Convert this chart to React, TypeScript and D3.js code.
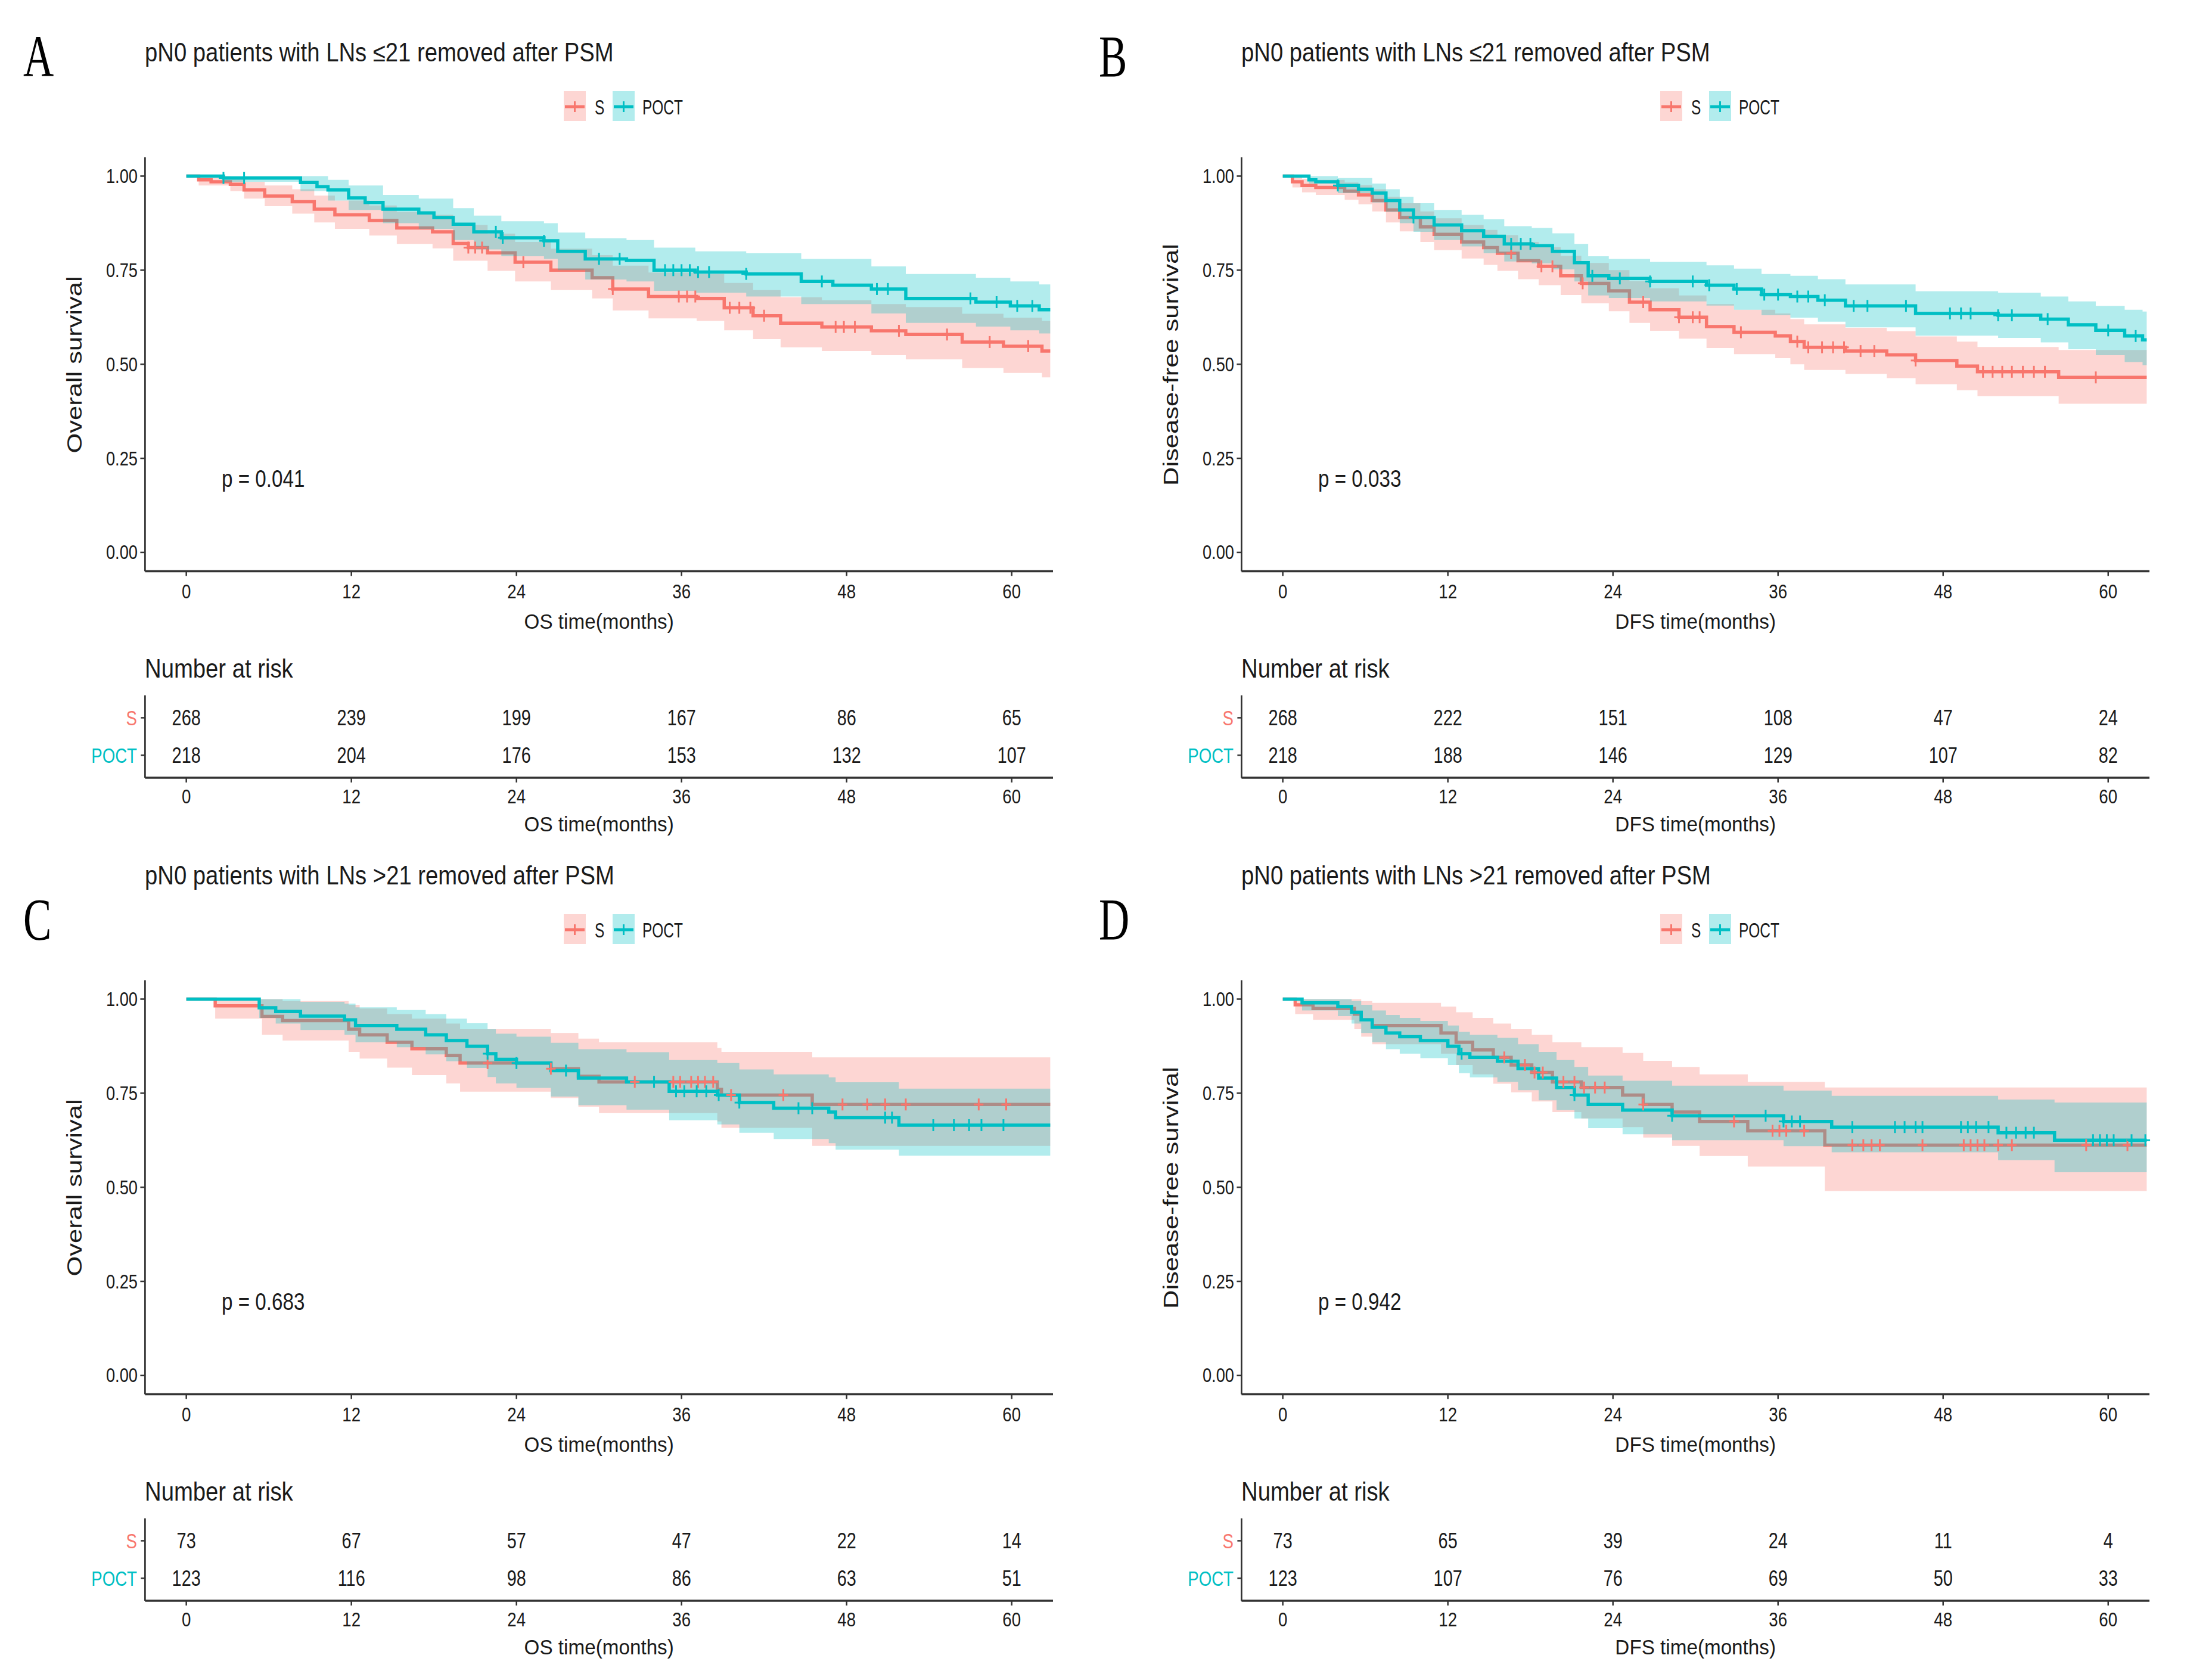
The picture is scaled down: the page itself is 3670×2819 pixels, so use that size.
import * as d3 from "d3";

const W = 3670;
const H = 2819;

const S_COLOR = "#F8766D";
const POCT_COLOR = "#00BFC4";
const SANS = "'Liberation Sans', Arial, Helvetica, sans-serif";
const SERIF = "'Liberation Serif', 'Times New Roman', serif";
const INK = "#1a1a1a";

type Step = [number, number];
type Band = [number, number, number];

const groups = ["S", "POCT"];
const timeTicks = [0, 12, 24, 36, 48, 60];
const survTicks = [0, 0.25, 0.5, 0.75, 1];

// ---------- A: OS, LNs <=21 ----------
const aCurveS: Step[] = [
  [0, 1], [0.9, 0.99], [1.8, 0.985], [3.2, 0.978], [4.2, 0.963], [5.7, 0.947], [7.7, 0.932],
  [9.3, 0.912], [10.8, 0.897], [13.3, 0.882], [15.3, 0.862], [17.9, 0.852], [19.4, 0.821],
  [20.5, 0.81], [21.9, 0.796], [23.9, 0.771], [26.5, 0.75], [29.5, 0.73], [31, 0.7], [33.6, 0.68],
  [37.1, 0.675], [39.1, 0.65], [41.2, 0.629], [43.2, 0.609], [46.2, 0.599], [49.8, 0.589],
  [52.3, 0.579], [56.4, 0.559], [59.4, 0.548], [62.2, 0.535], [62.8, 0.535],
];
const aBandS: Band[] = [
  [0, 1, 1], [0.9, 0.975, 1], [3.2, 0.96, 0.995], [4.2, 0.94, 0.985], [5.7, 0.92, 0.975],
  [7.7, 0.9, 0.965], [9.3, 0.877, 0.948], [10.8, 0.86, 0.935], [13.3, 0.842, 0.922],
  [15.3, 0.82, 0.905], [17.9, 0.808, 0.897], [19.4, 0.775, 0.87], [21.9, 0.748, 0.847],
  [23.9, 0.72, 0.825], [26.5, 0.697, 0.807], [29.5, 0.675, 0.79], [31, 0.643, 0.762],
  [33.6, 0.622, 0.744], [37.1, 0.615, 0.74], [39.1, 0.59, 0.716], [41.2, 0.567, 0.697],
  [43.2, 0.545, 0.678], [46.2, 0.535, 0.67], [49.8, 0.524, 0.66], [52.3, 0.513, 0.652],
  [56.4, 0.49, 0.634], [59.4, 0.477, 0.624], [62.2, 0.465, 0.615], [62.8, 0.465, 0.615],
];
const aCurvePoct: Step[] = [
  [0, 1], [2.7, 0.995], [8.3, 0.983], [9.5, 0.972], [10.3, 0.963], [11.8, 0.942], [13, 0.93],
  [14.3, 0.912], [16.9, 0.902], [18, 0.89], [19.4, 0.872], [20.9, 0.852], [22.9, 0.836],
  [26, 0.828], [27, 0.8], [29, 0.78], [32, 0.776], [34, 0.75], [37, 0.745], [40.7, 0.74],
  [44.7, 0.72], [47, 0.71], [49.8, 0.7], [52.3, 0.675], [57.4, 0.665], [59.9, 0.655],
  [62, 0.645], [62.8, 0.645],
];
const aBandPoct: Band[] = [
  [0, 1, 1], [2.7, 0.985, 1], [8.3, 0.96, 1], [10.3, 0.935, 0.99], [11.8, 0.91, 0.975],
  [14.3, 0.875, 0.95], [16.9, 0.86, 0.94], [19.4, 0.83, 0.915], [20.9, 0.805, 0.895],
  [22.9, 0.787, 0.88], [26, 0.78, 0.875], [27, 0.75, 0.85], [29, 0.725, 0.835], [32, 0.72, 0.83],
  [34, 0.695, 0.81], [37, 0.69, 0.8], [40.7, 0.68, 0.795], [44.7, 0.66, 0.78], [49.8, 0.635, 0.76],
  [52.3, 0.61, 0.74], [57.4, 0.6, 0.73], [59.9, 0.59, 0.72], [62, 0.582, 0.712], [62.8, 0.582, 0.712],
];
const aCensorS = [20.5, 21, 21.5, 24.5, 31, 35.8, 36.4, 37, 39.5, 40.2, 41, 42, 47.2, 47.8, 48.6, 51.8, 55.3, 58.4, 61.2];
const aCensorPoct = [2.7, 4.2, 22.5, 23, 26, 30, 31.5, 34.8, 35.4, 36, 36.6, 37.2, 38, 40.7, 46.2, 50.2, 51, 57, 58.9, 60.4, 61.5];
const aRiskS = [268, 239, 199, 167, 86, 65];
const aRiskPoct = [218, 204, 176, 153, 132, 107];

// ---------- B: DFS, LNs <=21 ----------
const bCurveS: Step[] = [
  [0, 1], [0.7, 0.985], [1.4, 0.975], [2.4, 0.97], [4.5, 0.96], [5.5, 0.95], [6.5, 0.935],
  [7.5, 0.91], [8.5, 0.89], [10, 0.865], [11, 0.845], [13, 0.825], [14.6, 0.81], [15.6, 0.795],
  [17.1, 0.775], [18.6, 0.76], [20.2, 0.735], [21.7, 0.715], [23.7, 0.695], [25.2, 0.665],
  [26.7, 0.645], [28.8, 0.625], [30.8, 0.6], [32.8, 0.585], [35.8, 0.575], [36.9, 0.56],
  [37.9, 0.545], [40.9, 0.535], [43.9, 0.525], [46, 0.51], [49, 0.495], [50.5, 0.48],
  [56.4, 0.465], [62.8, 0.465],
];
const bBandS: Band[] = [
  [0, 1, 1], [0.7, 0.97, 1], [1.4, 0.957, 0.993], [2.4, 0.95, 0.99], [4.5, 0.937, 0.983],
  [5.5, 0.925, 0.976], [6.5, 0.906, 0.965], [7.5, 0.877, 0.945], [8.5, 0.853, 0.928],
  [10, 0.825, 0.906], [11, 0.803, 0.888], [13, 0.781, 0.87], [14.6, 0.764, 0.857],
  [15.6, 0.748, 0.843], [17.1, 0.726, 0.825], [18.6, 0.71, 0.811], [20.2, 0.684, 0.788],
  [21.7, 0.662, 0.769], [23.7, 0.641, 0.75], [25.2, 0.61, 0.721], [26.7, 0.589, 0.702],
  [28.8, 0.568, 0.683], [30.8, 0.543, 0.66], [32.8, 0.527, 0.645], [35.8, 0.516, 0.635],
  [36.9, 0.5, 0.62], [37.9, 0.485, 0.606], [40.9, 0.474, 0.597], [43.9, 0.463, 0.588],
  [46, 0.447, 0.574], [49, 0.431, 0.56], [50.5, 0.415, 0.546], [56.4, 0.395, 0.538],
  [62.8, 0.395, 0.538],
];
const bCurvePoct: Step[] = [
  [0, 1], [1.9, 0.99], [2.4, 0.985], [4, 0.975], [5.5, 0.965], [6.5, 0.955], [7.5, 0.935],
  [8.5, 0.91], [9.5, 0.89], [11, 0.87], [13, 0.855], [14.6, 0.84], [16.1, 0.82], [18.1, 0.815],
  [19.6, 0.8], [21.2, 0.77], [22.2, 0.735], [23.7, 0.728], [26.7, 0.72], [30.8, 0.71],
  [32.8, 0.7], [34.8, 0.685], [36.9, 0.68], [38.9, 0.67], [40.9, 0.655], [46, 0.635], [52, 0.63],
  [55.1, 0.62], [57.1, 0.605], [59.1, 0.59], [61.2, 0.575], [62.5, 0.565], [62.8, 0.565],
];
const bBandPoct: Band[] = [
  [0, 1, 1], [1.9, 0.98, 1], [4, 0.955, 0.995], [6.5, 0.93, 0.98], [7.5, 0.905, 0.965],
  [8.5, 0.875, 0.945], [9.5, 0.852, 0.928], [11, 0.83, 0.91], [13, 0.813, 0.897],
  [14.6, 0.795, 0.885], [16.1, 0.773, 0.867], [18.1, 0.768, 0.862], [19.6, 0.752, 0.848],
  [21.2, 0.72, 0.82], [22.2, 0.683, 0.787], [23.7, 0.676, 0.78], [26.7, 0.667, 0.772],
  [30.8, 0.656, 0.763], [32.8, 0.645, 0.754], [34.8, 0.63, 0.74], [36.9, 0.624, 0.735],
  [38.9, 0.613, 0.726], [40.9, 0.598, 0.712], [46, 0.576, 0.694], [52, 0.57, 0.69],
  [55.1, 0.558, 0.68], [57.1, 0.54, 0.667], [59.1, 0.524, 0.655], [61.2, 0.506, 0.645],
  [62.5, 0.497, 0.64], [62.8, 0.497, 0.64],
];
const bCensorS = [16.6, 18.8, 19.6, 21.8, 26.2, 28.8, 29.8, 30.3, 33.3, 37.4, 38.2, 39.2, 40, 40.8, 42, 43, 46, 50.9, 51.6, 52.3, 53, 53.8, 54.6, 55.4, 59.1];
const bCensorPoct = [4, 9.5, 16.6, 17.3, 18, 22.5, 24.5, 26.7, 29.8, 31, 33, 35, 36, 37.4, 38.2, 39.4, 41.5, 42.5, 45.3, 48.5, 49.3, 50, 52, 53, 55.6, 60, 62];
const bRiskS = [268, 222, 151, 108, 47, 24];
const bRiskPoct = [218, 188, 146, 129, 107, 82];

// ---------- C: OS, LNs >21 ----------
const cCurveS: Step[] = [
  [0, 1], [2.1, 0.982], [5.5, 0.954], [7, 0.943], [11.8, 0.92], [12.6, 0.905], [14.6, 0.885],
  [16.4, 0.868], [18.9, 0.85], [19.9, 0.83], [26.5, 0.815], [28.5, 0.795], [30, 0.78],
  [38.6, 0.76], [38.9, 0.745], [45.5, 0.72], [62.8, 0.72],
];
const cBandS: Band[] = [
  [0, 1, 1], [2.1, 0.948, 1], [5.5, 0.905, 1], [7, 0.89, 0.995], [11.8, 0.86, 0.985],
  [12.6, 0.842, 0.975], [14.6, 0.818, 0.96], [16.4, 0.798, 0.948], [18.9, 0.776, 0.935],
  [19.9, 0.754, 0.92], [26.5, 0.737, 0.91], [28.5, 0.714, 0.895], [30, 0.697, 0.885],
  [38.6, 0.675, 0.87], [38.9, 0.658, 0.86], [45.5, 0.61, 0.845], [62.8, 0.61, 0.845],
];
const cCurvePoct: Step[] = [
  [0, 1], [5.3, 0.977], [6.5, 0.967], [8.3, 0.955], [11.5, 0.945], [12.3, 0.93], [15.3, 0.92],
  [17.4, 0.905], [18.9, 0.89], [20.4, 0.875], [21.9, 0.855], [22.5, 0.84], [24, 0.83],
  [26.5, 0.81], [28.5, 0.79], [32, 0.78], [35.1, 0.755], [38.6, 0.745], [40.2, 0.725],
  [42.7, 0.71], [46.7, 0.7], [47.2, 0.685], [51.8, 0.665], [62.8, 0.665],
];
const cBandPoct: Band[] = [
  [0, 1, 1], [5.3, 0.95, 1], [6.5, 0.935, 1], [8.3, 0.918, 0.993], [11.5, 0.905, 0.988],
  [12.3, 0.885, 0.978], [15.3, 0.872, 0.971], [17.4, 0.853, 0.96], [18.9, 0.835, 0.948],
  [20.4, 0.817, 0.936], [21.9, 0.793, 0.92], [22.5, 0.776, 0.908], [24, 0.764, 0.9],
  [26.5, 0.741, 0.884], [28.5, 0.718, 0.867], [32, 0.706, 0.859], [35.1, 0.678, 0.838],
  [38.6, 0.667, 0.83], [40.2, 0.645, 0.813], [42.7, 0.628, 0.8], [46.7, 0.617, 0.792],
  [47.2, 0.6, 0.779], [51.8, 0.584, 0.762], [62.8, 0.584, 0.762],
];
const cCensorS = [21.9, 26.5, 32.6, 35.4, 35.9, 36.7, 37.2, 37.7, 38.3, 39.6, 43.4, 47.7, 49.5, 50.8, 52.3, 57.6, 59.6];
const cCensorPoct = [21.9, 24, 27.6, 34, 35.6, 36.2, 37.1, 37.8, 38.7, 40.2, 44.5, 45.5, 50.8, 51.3, 54.3, 55.8, 56.9, 57.8, 59.4];
const cRiskS = [73, 67, 57, 47, 22, 14];
const cRiskPoct = [123, 116, 98, 86, 63, 51];

// ---------- D: DFS, LNs >21 ----------
const dCurveS: Step[] = [
  [0, 1], [0.9, 0.985], [2.2, 0.975], [5.2, 0.96], [5.7, 0.945], [6.5, 0.93], [11.5, 0.91],
  [12.6, 0.885], [13.8, 0.865], [15.3, 0.845], [16.6, 0.825], [18.1, 0.805], [19.6, 0.78],
  [21.7, 0.765], [24.7, 0.745], [26.2, 0.72], [28.3, 0.7], [30.3, 0.675], [33.8, 0.65],
  [39.4, 0.612], [62.8, 0.612],
];
const dBandS: Band[] = [
  [0, 1, 1], [0.9, 0.96, 1], [2.2, 0.945, 1], [5.2, 0.92, 1], [5.7, 0.9, 0.995], [6.5, 0.88, 0.99],
  [11.5, 0.855, 0.98], [12.6, 0.825, 0.965], [13.8, 0.8, 0.95], [15.3, 0.775, 0.935],
  [16.6, 0.752, 0.92], [18.1, 0.728, 0.905], [19.6, 0.7, 0.885], [21.7, 0.683, 0.872],
  [24.7, 0.66, 0.857], [26.2, 0.632, 0.836], [28.3, 0.61, 0.82], [30.3, 0.583, 0.8],
  [33.8, 0.555, 0.78], [39.4, 0.49, 0.765], [62.8, 0.49, 0.765],
];
const dCurvePoct: Step[] = [
  [0, 1], [1.4, 0.99], [4, 0.98], [5, 0.965], [5.7, 0.945], [6.5, 0.925], [7.5, 0.91],
  [8.5, 0.9], [10, 0.89], [12, 0.875], [12.8, 0.855], [13.6, 0.845], [15.6, 0.835],
  [17.1, 0.815], [18.6, 0.79], [19.9, 0.765], [21.2, 0.745], [22.2, 0.72], [24.7, 0.705],
  [28.3, 0.69], [36.4, 0.675], [39.9, 0.66], [52, 0.645], [56.1, 0.625], [62.8, 0.625],
];
const dBandPoct: Band[] = [
  [0, 1, 1], [1.4, 0.97, 1], [4, 0.955, 1], [5, 0.935, 0.995], [5.7, 0.91, 0.985],
  [6.5, 0.885, 0.97], [7.5, 0.867, 0.958], [8.5, 0.855, 0.95], [10, 0.843, 0.942],
  [12, 0.825, 0.93], [12.8, 0.803, 0.913], [13.6, 0.792, 0.905], [15.6, 0.78, 0.897],
  [17.1, 0.758, 0.88], [18.6, 0.731, 0.86], [19.9, 0.705, 0.838], [21.2, 0.683, 0.82],
  [22.2, 0.657, 0.797], [24.7, 0.641, 0.783], [28.3, 0.625, 0.77], [36.4, 0.609, 0.757],
  [39.9, 0.593, 0.743], [52, 0.572, 0.733], [56.1, 0.54, 0.725], [62.8, 0.54, 0.725],
];
const dCensorS = [16.1, 17.6, 18.3, 18.9, 20.4, 21.2, 21.9, 22.7, 23.4, 26.2, 32.8, 35.6, 36.1, 36.6, 37.9, 41.4, 42.2, 42.8, 43.4, 46.5, 49.5, 50, 50.5, 51, 52, 53, 58.4, 61.4];
const dCensorPoct = [13, 21.2, 28.3, 35.1, 36.4, 37, 37.6, 41.4, 44.5, 45.2, 46, 46.5, 49.3, 49.8, 50.4, 51.3, 52.6, 53.3, 54, 54.6, 58.9, 59.4, 59.9, 60.4, 61.7, 62.7];
const dRiskS = [73, 65, 39, 24, 11, 4];
const dRiskPoct = [123, 107, 76, 69, 50, 33];

const titleLow = "pN0 patients with LNs \u226421 removed after PSM";
const titleHigh = "pN0 patients with LNs >21 removed after PSM";

const panels = [
  { letter: "A", title: titleLow, yLabel: "Overall survival", xLabel: "OS time(months)", p: "p = 0.041",
    curves: [aCurveS, aCurvePoct], bands: [aBandS, aBandPoct], censors: [aCensorS, aCensorPoct], risk: [aRiskS, aRiskPoct] },
  { letter: "B", title: titleLow, yLabel: "Disease-free survival", xLabel: "DFS time(months)", p: "p = 0.033",
    curves: [bCurveS, bCurvePoct], bands: [bBandS, bBandPoct], censors: [bCensorS, bCensorPoct], risk: [bRiskS, bRiskPoct] },
  { letter: "C", title: titleHigh, yLabel: "Overall survival", xLabel: "OS time(months)", p: "p = 0.683",
    curves: [cCurveS, cCurvePoct], bands: [cBandS, cBandPoct], censors: [cCensorS, cCensorPoct], risk: [cRiskS, cRiskPoct] },
  { letter: "D", title: titleHigh, yLabel: "Disease-free survival", xLabel: "DFS time(months)", p: "p = 0.942",
    curves: [dCurveS, dCurvePoct], bands: [dBandS, dBandPoct], censors: [dCensorS, dCensorPoct], risk: [dRiskS, dRiskPoct] },
];

const offsets = [[0, 0], [1840, 0], [0, 1381], [1840, 1381]];
const letterPos = [[39, 128], [4, 128], [39, 195], [4, 195]];
const colors = [S_COLOR, POCT_COLOR];

const x = d3.scaleLinear().domain([-3, 63]).range([243.4, 1767]);
const y = d3.scaleLinear().domain([-0.05, 1.05]).range([958.5, 263.9]);
const riskY = d3.scalePoint<string>().domain(groups).range([1166.7, 1305]).padding(0.6);

const stepLine = d3.line<Step>().x((d) => x(d[0])).y((d) => y(d[1])).curve(d3.curveStepAfter);
const bandArea = d3
  .area<Band>()
  .x((d) => x(d[0]))
  .y0((d) => y(d[1]))
  .y1((d) => y(d[2]))
  .curve(d3.curveStepAfter);
const bisectT = d3.bisector((d: Step) => d[0]).right;
const survAt = (curve: Step[], t: number) => curve[Math.max(0, bisectT(curve, t) - 1)][1];

function Txt({ x, y, size, sx = 1, anchor = "start", fill = INK, family = SANS, rotate = 0, children }: any) {
  const tr = `translate(${x},${y}) scale(${sx},1)` + (rotate ? ` rotate(${rotate})` : "");
  return (
    <text transform={tr} fontSize={size} fontFamily={family} textAnchor={anchor} fill={fill}>
      {children}
    </text>
  );
}

function Panel({ p, idx }: { p: (typeof panels)[0]; idx: number }) {
  const [dx, dy] = offsets[idx];
  const x0 = x.range()[0];
  const x1 = x.range()[1];
  return (
    <g transform={`translate(${dx},${dy})`}>
      <Txt x={letterPos[idx][0]} y={letterPos[idx][1]} size={100} sx={0.71} family={SERIF} fill="#000">
        {p.letter}
      </Txt>
      <Txt x={243} y={103} size={44} sx={0.87}>
        {p.title}
      </Txt>

      {/* legend */}
      {groups.map((g, i) => {
        const kx = [946, 1028][i];
        const lx = [998, 1078][i];
        return (
          <g key={g}>
            <rect x={kx} y={153} width={37} height={50} fill={colors[i]} opacity={0.3} />
            <line x1={kx + 2} x2={kx + 35} y1={179} y2={179} stroke={colors[i]} strokeWidth={5} />
            <line x1={kx + 18.5} x2={kx + 18.5} y1={170} y2={188} stroke={colors[i]} strokeWidth={3} />
            <Txt x={lx} y={191.5} size={35} sx={0.7}>
              {g}
            </Txt>
          </g>
        );
      })}

      {/* survival curves: S ribbon, S line, POCT ribbon, POCT line */}
      {groups.map((g, i) => (
        <g key={g}>
          <path d={bandArea(p.bands[i]) ?? ""} fill={colors[i]} opacity={0.3} />
          <path d={stepLine(p.curves[i]) ?? ""} fill="none" stroke={colors[i]} strokeWidth={5.5} />
        </g>
      ))}
      {groups.map((g, i) =>
        p.censors[i].map((t, j) => {
          const cx = x(t);
          const cy = y(survAt(p.curves[i], t));
          return (
            <g key={`${g}-${j}`} stroke={colors[i]} strokeWidth={3}>
              <line x1={cx} x2={cx} y1={cy - 10} y2={cy + 10} />
              <line x1={cx - 8} x2={cx + 8} y1={cy} y2={cy} />
            </g>
          );
        })
      )}

      {/* y axis */}
      <line x1={x0} x2={x0} y1={y.range()[1]} y2={y.range()[0]} stroke="#333" strokeWidth={2.7} />
      {survTicks.map((v) => (
        <g key={v}>
          <line x1={x0 - 8} x2={x0} y1={y(v)} y2={y(v)} stroke="#333" strokeWidth={2.5} />
          <Txt x={231} y={y(v) + 11.5} size={32.5} sx={0.84} anchor="end">
            {d3.format(".2f")(v)}
          </Txt>
        </g>
      ))}
      <Txt x={137} y={612} size={43.5} sx={0.82} rotate={-90} anchor="middle">
        {p.yLabel}
      </Txt>

      {/* x axis */}
      <line x1={x0} x2={x1} y1={y.range()[0]} y2={y.range()[0]} stroke="#333" strokeWidth={3.3} />
      {timeTicks.map((t) => (
        <g key={t}>
          <line x1={x(t)} x2={x(t)} y1={y.range()[0]} y2={y.range()[0] + 8} stroke="#333" strokeWidth={2.5} />
          <Txt x={x(t)} y={1004} size={33} sx={0.84} anchor="middle">
            {t}
          </Txt>
        </g>
      ))}
      <Txt x={(x0 + x1) / 2} y={1055} size={35} sx={0.95} anchor="middle">
        {p.xLabel}
      </Txt>
      <Txt x={372} y={817} size={40} sx={0.83}>
        {p.p}
      </Txt>

      {/* risk table */}
      <Txt x={243} y={1137} size={44} sx={0.87}>
        Number at risk
      </Txt>
      <line x1={x0} x2={x0} y1={riskY.range()[0]} y2={riskY.range()[1]} stroke="#333" strokeWidth={2.7} />
      {groups.map((g, i) => (
        <g key={g}>
          <line x1={x0 - 7} x2={x0} y1={riskY(g)!} y2={riskY(g)!} stroke="#333" strokeWidth={2.5} />
          <Txt x={230} y={riskY(g)! + 12.5} size={35} sx={0.79} anchor="end" fill={colors[i]}>
            {g}
          </Txt>
          {p.risk[i].map((n, j) => (
            <Txt key={j} x={x(timeTicks[j])} y={riskY(g)! + 13} size={37} sx={0.78} anchor="middle">
              {n}
            </Txt>
          ))}
        </g>
      ))}
      <line x1={x0} x2={x1} y1={riskY.range()[1]} y2={riskY.range()[1]} stroke="#333" strokeWidth={3.3} />
      {timeTicks.map((t) => (
        <g key={t}>
          <line x1={x(t)} x2={x(t)} y1={riskY.range()[1]} y2={riskY.range()[1] + 8} stroke="#333" strokeWidth={2.5} />
          <Txt x={x(t)} y={1348} size={33} sx={0.84} anchor="middle">
            {t}
          </Txt>
        </g>
      ))}
      <Txt x={(x0 + x1) / 2} y={1395} size={35} sx={0.95} anchor="middle">
        {p.xLabel}
      </Txt>
    </g>
  );
}

export default function App() {
  return (
    <svg
      width={W}
      height={H}
      viewBox={`0 0 ${W} ${H}`}
      style={{ position: "absolute", left: 0, top: 0, display: "block", background: "#fff" }}
    >
      <rect width={W} height={H} fill="#fff" />
      {panels.map((p, i) => (
        <Panel key={p.letter} p={p} idx={i} />
      ))}
    </svg>
  );
}
